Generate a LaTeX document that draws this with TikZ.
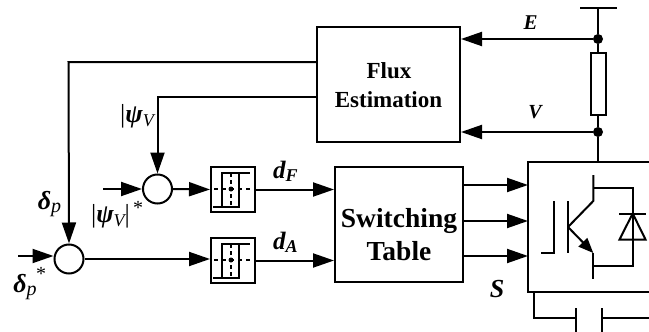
\documentclass[tikz,border=0pt]{standalone}
\usepackage{fontspec}
\setmainfont{Liberation Serif}
\usetikzlibrary{arrows.meta}
\newcommand{\fsz}[1]{\fontsize{#1}{#1}\selectfont}
\newcommand{\lowtxt}[3]{\raisebox{#1}{\fsz{#2}#3}}
\tikzset{
  wire/.style={line width=2pt},
  thin wire/.style={line width=1.7pt},
  arr/.style={wire,-{Triangle[length=21pt,width=14pt]}},
  blockbox/.style={draw,line width=2pt,inner sep=0pt,align=center},
  sumnode/.style={circle,draw,line width=2pt,minimum size=29pt,inner sep=0pt},
  dotj/.style={circle,fill,minimum size=10pt,inner sep=0pt},
  lbl/.style={inner sep=0pt,anchor=base},
  star/.style={inner sep=0pt},
}
\begin{document}
\begin{tikzpicture}[x=1pt,y=-1pt]
\useasboundingbox (0,0) rectangle (649,332);
% blocks
\node[blockbox,minimum width=143pt,minimum height=115pt] (flux) at (388.5,84) {};
\node[lbl] (fluxA) at (389,78) {\fsz{23}\bfseries Flux};
\node[lbl] (fluxB) at (388.5,107) {\fsz{23}\bfseries Estimation};
\node[blockbox,minimum width=128pt,minimum height=115pt] (table) at (399,224.5) {};
\node[lbl] (tabA) at (399,227) {\fsz{27.5}\bfseries Switching};
\node[lbl] (tabB) at (399,260) {\fsz{27.5}\bfseries Table};
\node[sumnode] (sumF) at (157.5,189) {};
\node[sumnode] (sumA) at (69,259) {};
\node[blockbox,minimum width=44pt,minimum height=45pt] (hystF) at (233,189.5) {};
\node[blockbox,minimum width=44pt,minimum height=45pt] (hystA) at (233,260.5) {};
\node[blockbox,minimum width=15pt,minimum height=62pt] (res) at (598,84) {};
\coordinate (busL) at (580,8); \coordinate (busR) at (617,8); \coordinate (busM) at (598,8);
\node[dotj] (jE) at (598,39) {};
\node[dotj] (jV) at (598,132) {};
\coordinate (invTop) at (598,162);
% inverter box (open at right edge)
\draw[wire] (649,162) -- (528,162) -- (528,292) -- (649,292);
% hysteresis glyphs
\foreach \n/\c in {hystF/189,hystA/260}{
  \draw[thin wire] (213,\c+18) -- (239,\c+18) -- (239,\c-16);
  \draw[thin wire] (222,\c+18) -- (222,\c-16) -- (250,\c-16);
  \draw[thin wire,dash pattern=on 4pt off 4pt] (214,\c) -- (251,\c);
  \draw[thin wire,dash pattern=on 4pt off 3pt] (231,\c-16) -- (231,\c+18);
  \fill (231,\c) circle (2.5pt);
}
% supply
\draw[wire] (busL) -- (busR);
\draw[wire] (busM) -- (jE) -- (res);
\draw[wire] (res) -- (jV) -- (invTop);
% measurement arrows
\draw[arr] (jE) -- (jE -| flux.east);
\draw[arr] (jV) -- (jV -| flux.east);
% feedback
\coordinate (fbPsi) at (317,97);
\coordinate (fbDelta) at (317,62);
\draw[arr] (fbPsi) -- (157.5,97) -- (sumF.north);
\draw[arr] (fbDelta) -- (68.5,62) -- (sumA.north);
% inputs
\coordinate (inF) at (103,189);
\coordinate (inA) at (18,256);
\draw[arr] (inF) -- (sumF.west);
\draw[arr] (inA) -- (sumA.west |- inA);
\draw[arr] (sumF.east) -- (hystF.west);
\draw[arr] (sumA.east) -- (hystA.west |- sumA.east);
\draw[arr] (hystF.east) -- (hystF.east -| table.west);
\draw[arr] (hystA.east) -- (hystA.east -| table.west);
% switching signals
\foreach \y in {185,221,256}{
  \draw[arr] (463,\y) -- (528,\y);
}
% IGBT
\draw[wire] (593.3,175) -- (593.3,201) -- (568,227);
\draw[wire] (593.3,188) -- (632.7,188) -- (632.7,265.7) -- (593.3,265.7);
\draw[wire] (593.3,253) -- (593.3,279);
\draw[wire] (568,201) -- (568,253);
\draw[wire] (554.3,201) -- (554.3,253) -- (541,253);
\draw[wire,-{Triangle[length=15pt,width=12pt]}] (568,227) -- (593.3,253);
% diode
\draw[wire] (619,213.5) -- (646,213.5);
\draw[wire] (632.7,213.5) -- (619.5,239.5) -- (645.5,239.5) -- cycle;
% capacitor
\draw[wire] (533.7,292) -- (533.7,317.7) -- (576,317.7);
\draw[wire] (576,308) -- (576,332);
\draw[wire] (602.3,308) -- (602.3,332);
\draw[wire] (602.3,317.7) -- (649,317.7);
% labels
\node[lbl] (lE) at (530.5,30) {\fsz{21}\bfseries\itshape E};
\node[lbl] (lV) at (535,118) {\fsz{20}\itshape\bfseries V};
\node[lbl] (lS) at (497,297) {\fsz{26}\bfseries\itshape S};
\node[lbl] (ldF) at (285.5,178) {\fsz{25}\bfseries\itshape d\lowtxt{-3pt}{18}{F}};
\node[lbl] (ldA) at (285.5,249) {\fsz{25}\bfseries\itshape d\lowtxt{-3pt}{18}{A}};
\node[lbl] (lpsi) at (137,122) {\fsz{26}|{\bfseries\itshape ψ}\lowtxt{-4pt}{18}{\itshape V}};
\node[lbl] (lpsis) at (110.5,222) {\fsz{26}|{\bfseries\itshape ψ}\lowtxt{-4pt}{18}{\itshape V}|};
\node[star] (lpsist) at (138,208) {\fsz{20}*};
\node[lbl] (ldp) at (49.5,209) {\fsz{26}{\bfseries\itshape δ}\lowtxt{-3pt}{20}{\itshape p}};
\node[lbl] (ldps) at (25,292) {\fsz{26}{\bfseries\itshape δ}\lowtxt{-3pt}{20}{\itshape p}};
\node[star] (ldpst) at (41,274) {\fsz{20}*};
\end{tikzpicture}
\end{document}
